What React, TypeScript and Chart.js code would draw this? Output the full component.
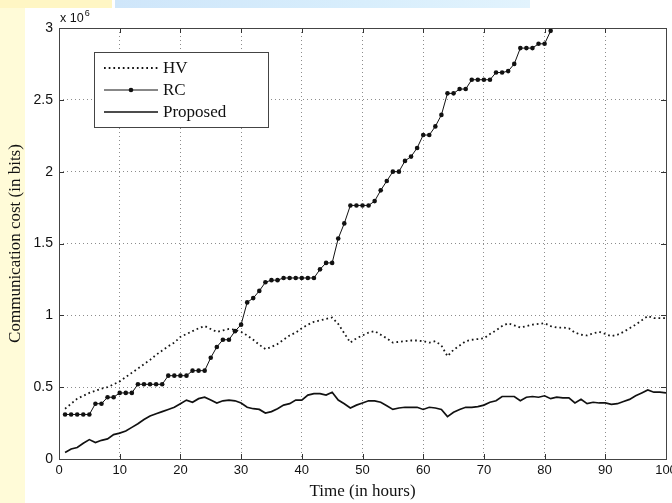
import React, { useEffect, useRef } from "react";
import { Chart, registerables } from "chart.js";

Chart.register(...registerables);

const hours = [
  1, 2, 3, 4, 5, 6, 7, 8, 9, 10, 11, 12, 13, 14, 15, 16, 17, 18, 19, 20,
  21, 22, 23, 24, 25, 26, 27, 28, 29, 30, 31, 32, 33, 34, 35, 36, 37, 38, 39, 40,
  41, 42, 43, 44, 45, 46, 47, 48, 49, 50, 51, 52, 53, 54, 55, 56, 57, 58, 59, 60,
  61, 62, 63, 64, 65, 66, 67, 68, 69, 70, 71, 72, 73, 74, 75, 76, 77, 78, 79, 80,
  81, 82, 83, 84, 85, 86, 87, 88, 89, 90, 91, 92, 93, 94, 95, 96, 97, 98, 99, 100,
];

// values in units of 10^6 bits
const hvValues = [
  0.35, 0.385, 0.42, 0.44, 0.46, 0.475, 0.49, 0.5, 0.52, 0.54,
  0.57, 0.6, 0.63, 0.66, 0.69, 0.725, 0.755, 0.785, 0.81, 0.85,
  0.87, 0.89, 0.91, 0.925, 0.905, 0.885, 0.895, 0.905, 0.9, 0.885,
  0.86, 0.83, 0.795, 0.765, 0.78, 0.8, 0.83, 0.86, 0.88, 0.91,
  0.935, 0.955, 0.965, 0.975, 0.985, 0.94, 0.875, 0.81, 0.84, 0.86,
  0.88, 0.89, 0.865, 0.84, 0.81, 0.815, 0.82, 0.825, 0.825, 0.82,
  0.81, 0.82, 0.79, 0.715, 0.76, 0.79, 0.82, 0.83, 0.835, 0.84,
  0.87, 0.895, 0.925, 0.945, 0.93, 0.915, 0.925, 0.935, 0.94, 0.945,
  0.925, 0.915, 0.915, 0.91, 0.88, 0.865, 0.86, 0.875, 0.885, 0.87,
  0.855, 0.865, 0.885, 0.91, 0.935, 0.965, 0.995, 0.98, 0.98, 0.98,
];

const rcValues = [
  0.31, 0.31, 0.31, 0.31, 0.31, 0.385, 0.385, 0.43, 0.43, 0.46,
  0.46, 0.46, 0.52, 0.52, 0.52, 0.52, 0.52, 0.58, 0.58, 0.58,
  0.58, 0.615, 0.615, 0.615, 0.705, 0.78, 0.83, 0.83, 0.89, 0.935,
  1.09, 1.12, 1.17, 1.23, 1.245, 1.245, 1.26, 1.26, 1.26, 1.26,
  1.26, 1.26, 1.32, 1.365, 1.365, 1.535, 1.64, 1.765, 1.765, 1.765,
  1.765, 1.795, 1.87, 1.935, 2.0, 2.0, 2.075, 2.105, 2.165, 2.255,
  2.255, 2.315, 2.395, 2.545, 2.545, 2.575, 2.575, 2.64, 2.64, 2.64,
  2.64, 2.69, 2.69, 2.7, 2.75, 2.86, 2.86, 2.86, 2.89, 2.89,
  2.98,
];

const proposedValues = [
  0.045, 0.07, 0.08, 0.11, 0.135, 0.115, 0.13, 0.14, 0.17, 0.18,
  0.195, 0.22, 0.245, 0.275, 0.3, 0.315, 0.33, 0.345, 0.36, 0.385,
  0.41, 0.395, 0.42, 0.43, 0.41, 0.39, 0.405, 0.41, 0.405, 0.39,
  0.36, 0.35, 0.345, 0.32, 0.33, 0.35, 0.375, 0.385, 0.41, 0.41,
  0.445, 0.455, 0.455, 0.445, 0.465, 0.41, 0.385, 0.355, 0.375, 0.39,
  0.405, 0.405, 0.395, 0.37, 0.345, 0.355, 0.36, 0.36, 0.36, 0.345,
  0.36, 0.355, 0.345, 0.295, 0.325, 0.345, 0.36, 0.36, 0.365, 0.375,
  0.395, 0.405, 0.435, 0.435, 0.435, 0.405, 0.43, 0.435, 0.43, 0.44,
  0.42, 0.43, 0.425, 0.425, 0.39, 0.415, 0.385, 0.395, 0.39, 0.39,
  0.38, 0.385, 0.4, 0.415, 0.44, 0.46, 0.48, 0.465, 0.465, 0.46,
];

const xTicks = [0, 10, 20, 30, 40, 50, 60, 70, 80, 90, 100];
const yTicks = [0, 0.5, 1, 1.5, 2, 2.5, 3];
const seriesLabels = ["HV", "RC", "Proposed"];

const toPoints = (vals: number[]) => vals.map((v, i) => ({ x: hours[i], y: v }));

const HV_DASH = [1.7, 3];

const framePlugin = {
  id: "frame",
  afterDraw(chart: any) {
    const { ctx, chartArea } = chart;
    const { left, right, top, bottom } = chartArea;
    const xs = chart.scales.x;
    const ys = chart.scales.y;
    ctx.save();
    ctx.strokeStyle = "#333";
    ctx.lineWidth = 1;
    ctx.setLineDash([]);
    ctx.beginPath();
    xTicks.forEach((t) => {
      const px = Math.round(xs.getPixelForValue(t)) + 0.5;
      ctx.moveTo(px, bottom);
      ctx.lineTo(px, bottom - 5);
      ctx.moveTo(px, top);
      ctx.lineTo(px, top + 5);
    });
    yTicks.forEach((t) => {
      const py = Math.round(ys.getPixelForValue(t)) + 0.5;
      ctx.moveTo(left, py);
      ctx.lineTo(left + 5, py);
      ctx.moveTo(right, py);
      ctx.lineTo(right - 5, py);
    });
    ctx.stroke();
    ctx.strokeStyle = "#444";
    ctx.strokeRect(Math.round(left) + 0.5, Math.round(top) + 0.5, Math.round(right - left), Math.round(bottom - top));

    // exponent label
    ctx.fillStyle = "#111";
    ctx.textBaseline = "alphabetic";
    ctx.textAlign = "left";
    ctx.font = "12.5px 'Liberation Sans'";
    ctx.fillText("x 10", left + 1, top - 6);
    const w = ctx.measureText("x 10").width;
    ctx.font = "9px 'Liberation Sans'";
    ctx.fillText("6", left + 1 + w + 1, top - 12);

    // legend
    const bx = left + 35;
    const by = top + 24;
    const bw = 174;
    const bh = 75;
    ctx.fillStyle = "#fff";
    ctx.fillRect(bx, by, bw, bh);
    ctx.strokeStyle = "#444";
    ctx.lineWidth = 1;
    ctx.strokeRect(bx + 0.5, by + 0.5, bw, bh);
    const rows = [by + 16, by + 38, by + 60];
    const lx1 = bx + 10;
    const lx2 = bx + 64;
    ctx.strokeStyle = "#111";
    // HV
    ctx.lineWidth = 1.8;
    ctx.setLineDash(HV_DASH);
    ctx.beginPath();
    ctx.moveTo(lx1, rows[0]);
    ctx.lineTo(lx2, rows[0]);
    ctx.stroke();
    ctx.setLineDash([]);
    // RC
    ctx.lineWidth = 1;
    ctx.beginPath();
    ctx.moveTo(lx1, rows[1]);
    ctx.lineTo(lx2, rows[1]);
    ctx.stroke();
    ctx.fillStyle = "#111";
    ctx.beginPath();
    ctx.arc((lx1 + lx2) / 2, rows[1], 2.3, 0, Math.PI * 2);
    ctx.fill();
    // Proposed
    ctx.lineWidth = 1.7;
    ctx.beginPath();
    ctx.moveTo(lx1, rows[2]);
    ctx.lineTo(lx2, rows[2]);
    ctx.stroke();
    ctx.font = "17px 'Liberation Serif'";
    ctx.textBaseline = "middle";
    seriesLabels.forEach((s, i) => ctx.fillText(s, lx2 + 5, rows[i] + 1));
    ctx.restore();
  },
};

export default function App() {
  const ref = useRef<HTMLCanvasElement | null>(null);
  useEffect(() => {
    document.body.style.margin = "0";
    if (!ref.current) return;
    const chart = new Chart(ref.current, {
      type: "line",
      data: {
        datasets: [
          {
            label: seriesLabels[0],
            data: toPoints(hvValues),
            borderColor: "#151515",
            borderWidth: 1.8,
            borderDash: HV_DASH,
            pointRadius: 0,
            tension: 0,
            fill: false,
          },
          {
            label: seriesLabels[1],
            data: toPoints(rcValues),
            borderColor: "#111",
            borderWidth: 1,
            pointRadius: 2.3,
            pointBackgroundColor: "#111",
            pointBorderColor: "#111",
            pointBorderWidth: 0,
            tension: 0,
            fill: false,
          },
          {
            label: seriesLabels[2],
            data: toPoints(proposedValues),
            borderColor: "#111",
            borderWidth: 1.7,
            pointRadius: 0,
            tension: 0,
            fill: false,
          },
        ],
      },
      options: {
        animation: false,
        responsive: false,
        maintainAspectRatio: false,
        events: [],
        layout: { padding: { top: 28, right: 24, left: 0, bottom: 0 } },
        plugins: {
          legend: { display: false },
          tooltip: { enabled: false },
        },
        scales: {
          x: {
            type: "linear",
            min: 0,
            max: 100,
            afterBuildTicks: (s: any) => {
              s.ticks = xTicks.map((v) => ({ value: v }));
            },
            afterFit: (s: any) => {
              s.height = 44;
            },
            ticks: {
              autoSkip: false,
              maxRotation: 0,
              padding: 4,
              color: "#111",
              font: { family: "'Liberation Sans'", size: 13 },
              callback: (v: any) => String(v),
            },
            grid: {
              color: "rgba(0,0,0,0.45)",
              lineWidth: 1,
              drawTicks: false,
            },
            border: { display: false, dash: [1, 3] },
            title: {
              display: true,
              text: "Time (in hours)",
              color: "#111",
              font: { family: "'Liberation Serif'", size: 17 },
              padding: { top: 0, bottom: 1 },
            },
          },
          y: {
            type: "linear",
            min: 0,
            max: 3,
            afterBuildTicks: (s: any) => {
              s.ticks = yTicks.map((v) => ({ value: v }));
            },
            afterFit: (s: any) => {
              s.width = 59;
            },
            ticks: {
              padding: 6,
              color: "#111",
              font: { family: "'Liberation Sans'", size: 14 },
              callback: (v: any) => String(v),
            },
            grid: {
              color: "rgba(0,0,0,0.45)",
              lineWidth: 1,
              drawTicks: false,
            },
            border: { display: false, dash: [1, 3] },
            title: {
              display: true,
              text: "Communication cost (in bits)",
              color: "#111",
              font: { family: "'Liberation Serif'", size: 17 },
              padding: { top: 5, bottom: 0 },
            },
          },
        },
      },
      plugins: [framePlugin],
    });
    return () => chart.destroy();
  }, []);

  return (
    <div style={{ position: "relative", width: 672, height: 503, overflow: "hidden", background: "#fff" }}>
      <style>{`body{margin:0}`}</style>
      <div style={{ position: "absolute", left: 0, top: 0, width: 25, height: 503, background: "#FFFBD8" }} />
      <div style={{ position: "absolute", left: 0, top: 0, width: 112, height: 8, background: "#FFF6C4" }} />
      <div
        style={{
          position: "absolute",
          left: 115,
          top: 0,
          width: 415,
          height: 8,
          background: "linear-gradient(90deg, #CFE6FA, #D8EEFC 60%, #E2F3FD)",
        }}
      />
      <canvas ref={ref} width={690} height={503} style={{ position: "absolute", left: 0, top: 0, width: 690, height: 503 }} />
    </div>
  );
}
